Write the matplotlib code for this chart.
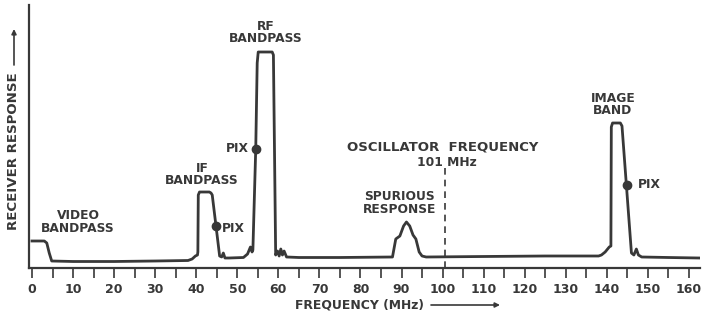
import numpy as np
import matplotlib.pyplot as plt

# receiver response curve (MHz, relative response)
freq_mhz = [0.0, 3.0, 3.6, 4.2, 4.8, 10, 20, 30, 38.0, 39.0, 39.8, 40.3, 40.4,
            40.5, 40.8, 43.2, 43.6, 43.9, 45.7, 46.2, 46.6, 47.0, 48.0, 51.5,
            52.5, 53.2, 53.6, 53.8, 54.5, 54.85, 55.1, 58.5, 58.8, 59.35,
            59.8, 60.2, 60.6, 61.0, 61.4, 62.0, 65, 75, 87.8, 88.6, 89.6,
            90.5, 91.2, 92.0, 92.8, 93.5, 94.3, 95.0, 96.0, 110, 125, 138.0,
            138.7, 139.6, 140.6, 141.0, 141.1, 141.4, 143.3, 143.7, 146.0,
            146.6, 147.2, 147.7, 148.5, 155, 162.5]
response = [2.7, 2.7, 2.5, 1.5, 0.7, 0.65, 0.65, 0.7, 0.75, 0.9, 1.2, 1.3, 1.6,
            7.3, 7.6, 7.6, 7.5, 7.3, 1.2, 1.1, 1.5, 1.0, 1.0, 1.05,
            1.4, 2.1, 1.6, 1.8, 12.0, 20.5, 21.6, 21.6, 21.3, 1.3,
            1.7, 1.2, 1.9, 1.3, 1.7, 1.1, 1.05, 1.05, 1.1, 2.9, 3.2,
            4.2, 4.6, 4.2, 3.3, 2.9, 1.6, 1.2, 1.1, 1.15, 1.2, 1.2,
            1.3, 1.6, 2.1, 2.2, 14.1, 14.5, 14.5, 14.2, 1.5,
            1.3, 1.9, 1.3, 1.1, 1.05, 1.0]

# "PIX" carrier points
pix_freq = [44.8, 54.5, 144.8]
pix_resp = [4.2, 11.9, 8.3]

osc_freq = 100.7
osc_top = 10.1

xticks_major = np.arange(0, 161, 10)
xticks_minor = np.arange(5, 161, 10)

ink = '#383838'
plt.rcParams['font.family'] = 'DejaVu Sans'
plt.rcParams['font.weight'] = 'bold'

fig = plt.figure(figsize=(7.03, 3.15), dpi=100)
ax = fig.add_axes([29 / 703, 47 / 315, 671 / 703, 263 / 315])

ax.plot(freq_mhz, response, color=ink, linewidth=2.0, solid_joinstyle='round')
ax.plot(pix_freq, pix_resp, 'o', color=ink, markersize=6)
ax.plot([osc_freq, osc_freq], [0, osc_top], color=ink, linewidth=1.2,
        dashes=(4, 3))

tk = dict(color=ink, fontsize=8.8, fontweight='bold')
ax.text(11.2, 4.6, 'VIDEO\nBANDPASS', ha='center', va='center',
        linespacing=1.0, **tk)
ax.text(41.4, 9.35, 'IF\nBANDPASS', ha='center', va='center',
        linespacing=1.0, **tk)
ax.text(46.3, 4.0, 'PIX', ha='left', va='center', **tk)
ax.text(52.9, 11.9, 'PIX', ha='right', va='center', **tk)
ax.text(56.9, 23.55, 'RF\nBANDPASS', ha='center', va='center',
        linespacing=1.0, **tk)
ax.text(100.1, 12.1, 'OSCILLATOR  FREQUENCY', ha='center', va='center',
        color=ink, fontsize=9.5, fontweight='bold')
ax.text(101.0, 10.5, '101 MHz', ha='center', va='center', **tk)
ax.text(89.6, 6.5, 'SPURIOUS\nRESPONSE', ha='center', va='center',
        linespacing=1.0, **tk)
ax.text(141.5, 16.35, 'IMAGE\nBAND', ha='center', va='center',
        linespacing=1.0, **tk)
ax.text(147.5, 8.4, 'PIX', ha='left', va='center', **tk)

ax.set_xlim(-0.73, 162.7)
ax.set_ylim(0, 26.3)
ax.set_xticks(xticks_major)
ax.set_xticks(xticks_minor, minor=True)
ax.set_xticklabels([str(v) for v in xticks_major], fontsize=9,
                   fontweight='bold', color=ink)
ax.tick_params(axis='x', which='both', direction='out', length=7, width=1.2,
               color=ink, pad=4)
ax.set_yticks([])
for s in ['top', 'right']:
    ax.spines[s].set_visible(False)
for s in ['left', 'bottom']:
    ax.spines[s].set_color(ink)
    ax.spines[s].set_linewidth(1.6)

# axis titles with arrows, placed in figure pixels
arrow = dict(arrowstyle='-|>', color=ink, lw=1.2, mutation_scale=7,
             shrinkA=0, shrinkB=0)
fig.text(295 / 703, 1 - 305 / 315, 'FREQUENCY (MHz)', ha='left', va='center',
         color=ink, fontsize=8.9, fontweight='bold')
ax.annotate('', xy=(500, 10), xytext=(431, 10), xycoords='figure pixels',
            textcoords='figure pixels', arrowprops=arrow)
fig.text(14 / 703, 85 / 315, 'RECEIVER RESPONSE', rotation=90, ha='center',
         va='bottom', color=ink, fontsize=9.6, fontweight='bold')
ax.annotate('', xy=(14, 286), xytext=(14, 250), xycoords='figure pixels',
            textcoords='figure pixels', arrowprops=arrow)

fig.savefig('out.png', dpi=100)
